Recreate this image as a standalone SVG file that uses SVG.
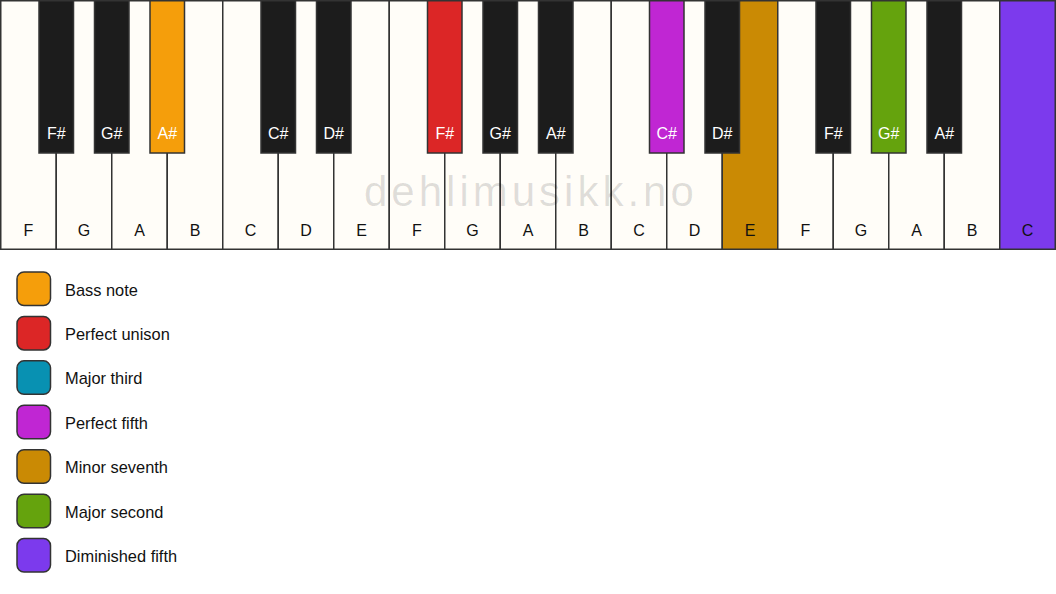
<svg xmlns="http://www.w3.org/2000/svg" width="1056" height="594" viewBox="0 0 1056 594">
<style>
.w{fill:#fffdf8;stroke:#333;stroke-width:1.5}
.b{fill:#1c1c1c;stroke:#333;stroke-width:1.5}
.wl{font-family:"Liberation Sans",Arial,sans-serif;font-size:16px;fill:#111;text-anchor:middle}
.bl{font-family:"Liberation Sans",Arial,sans-serif;font-size:16px;fill:#fff;text-anchor:middle}
.lg{stroke:#333;stroke-width:1.5}
.lt{font-family:"Liberation Sans",Arial,sans-serif;font-size:16.4px;fill:#111}
.wm{font-family:"Liberation Sans",Arial,sans-serif;font-size:42px;fill:#000;fill-opacity:0.13;letter-spacing:4px}
</style>
<rect width="1056" height="594" fill="#ffffff"/>
<g id="white-keys">
<g id="w0"><rect class="w" x="0.75" y="0.75" width="55.5" height="248.5"/><text class="wl" x="28.5" y="236">F</text></g>
<g id="w1"><rect class="w" x="56.25" y="0.75" width="55.5" height="248.5"/><text class="wl" x="84" y="236">G</text></g>
<g id="w2"><rect class="w" x="111.75" y="0.75" width="55.5" height="248.5"/><text class="wl" x="139.5" y="236">A</text></g>
<g id="w3"><rect class="w" x="167.25" y="0.75" width="55.5" height="248.5"/><text class="wl" x="195" y="236">B</text></g>
<g id="w4"><rect class="w" x="222.75" y="0.75" width="55.5" height="248.5"/><text class="wl" x="250.5" y="236">C</text></g>
<g id="w5"><rect class="w" x="278.25" y="0.75" width="55.5" height="248.5"/><text class="wl" x="306" y="236">D</text></g>
<g id="w6"><rect class="w" x="333.75" y="0.75" width="55.5" height="248.5"/><text class="wl" x="361.5" y="236">E</text></g>
<g id="w7"><rect class="w" x="389.25" y="0.75" width="55.5" height="248.5"/><text class="wl" x="417" y="236">F</text></g>
<g id="w8"><rect class="w" x="444.75" y="0.75" width="55.5" height="248.5"/><text class="wl" x="472.5" y="236">G</text></g>
<g id="w9"><rect class="w" x="500.25" y="0.75" width="55.5" height="248.5"/><text class="wl" x="528" y="236">A</text></g>
<g id="w10"><rect class="w" x="555.75" y="0.75" width="55.5" height="248.5"/><text class="wl" x="583.5" y="236">B</text></g>
<g id="w11"><rect class="w" x="611.25" y="0.75" width="55.5" height="248.5"/><text class="wl" x="639" y="236">C</text></g>
<g id="w12"><rect class="w" x="666.75" y="0.75" width="55.5" height="248.5"/><text class="wl" x="694.5" y="236">D</text></g>
<g id="w13"><rect class="w" x="722.25" y="0.75" width="55.5" height="248.5" style="fill:#ca8a04"/><text class="wl" x="750" y="236">E</text></g>
<g id="w14"><rect class="w" x="777.75" y="0.75" width="55.5" height="248.5"/><text class="wl" x="805.5" y="236">F</text></g>
<g id="w15"><rect class="w" x="833.25" y="0.75" width="55.5" height="248.5"/><text class="wl" x="861" y="236">G</text></g>
<g id="w16"><rect class="w" x="888.75" y="0.75" width="55.5" height="248.5"/><text class="wl" x="916.5" y="236">A</text></g>
<g id="w17"><rect class="w" x="944.25" y="0.75" width="55.5" height="248.5"/><text class="wl" x="972" y="236">B</text></g>
<g id="w18"><rect class="w" x="999.75" y="0.75" width="55.5" height="248.5" style="fill:#7c3aed"/><text class="wl" x="1027.5" y="236">C</text></g>
</g>
<text class="wm" x="364" y="206">dehlimusikk.no</text>
<g id="black-keys">
<g id="b1"><rect class="b" x="39" y="0.75" width="34.5" height="152.25"/><text class="bl" x="56.25" y="138.5">F#</text></g>
<g id="b2"><rect class="b" x="94.5" y="0.75" width="34.5" height="152.25"/><text class="bl" x="111.75" y="138.5">G#</text></g>
<g id="b3"><rect class="b" x="150" y="0.75" width="34.5" height="152.25" style="fill:#f59e0b"/><text class="bl" x="167.25" y="138.5">A#</text></g>
<g id="b5"><rect class="b" x="261" y="0.75" width="34.5" height="152.25"/><text class="bl" x="278.25" y="138.5">C#</text></g>
<g id="b6"><rect class="b" x="316.5" y="0.75" width="34.5" height="152.25"/><text class="bl" x="333.75" y="138.5">D#</text></g>
<g id="b8"><rect class="b" x="427.5" y="0.75" width="34.5" height="152.25" style="fill:#dc2626"/><text class="bl" x="444.75" y="138.5">F#</text></g>
<g id="b9"><rect class="b" x="483" y="0.75" width="34.5" height="152.25"/><text class="bl" x="500.25" y="138.5">G#</text></g>
<g id="b10"><rect class="b" x="538.5" y="0.75" width="34.5" height="152.25"/><text class="bl" x="555.75" y="138.5">A#</text></g>
<g id="b12"><rect class="b" x="649.5" y="0.75" width="34.5" height="152.25" style="fill:#c026d3"/><text class="bl" x="666.75" y="138.5">C#</text></g>
<g id="b13"><rect class="b" x="705" y="0.75" width="34.5" height="152.25"/><text class="bl" x="722.25" y="138.5">D#</text></g>
<g id="b15"><rect class="b" x="816" y="0.75" width="34.5" height="152.25"/><text class="bl" x="833.25" y="138.5">F#</text></g>
<g id="b16"><rect class="b" x="871.5" y="0.75" width="34.5" height="152.25" style="fill:#65a30d"/><text class="bl" x="888.75" y="138.5">G#</text></g>
<g id="b17"><rect class="b" x="927" y="0.75" width="34.5" height="152.25"/><text class="bl" x="944.25" y="138.5">A#</text></g>
</g>
<g id="legend">
<g id="lg0"><rect class="lg" x="17" y="272" width="33.5" height="33.5" rx="7" fill="#f59e0b"/><text class="lt" x="65" y="295.5">Bass note</text></g>
<g id="lg1"><rect class="lg" x="17" y="316.43" width="33.5" height="33.5" rx="7" fill="#dc2626"/><text class="lt" x="65" y="339.9">Perfect unison</text></g>
<g id="lg2"><rect class="lg" x="17" y="360.86" width="33.5" height="33.5" rx="7" fill="#0891b2"/><text class="lt" x="65" y="384.4">Major third</text></g>
<g id="lg3"><rect class="lg" x="17" y="405.29" width="33.5" height="33.5" rx="7" fill="#c026d3"/><text class="lt" x="65" y="428.8">Perfect fifth</text></g>
<g id="lg4"><rect class="lg" x="17" y="449.72" width="33.5" height="33.5" rx="7" fill="#ca8a04"/><text class="lt" x="65" y="473.2">Minor seventh</text></g>
<g id="lg5"><rect class="lg" x="17" y="494.15" width="33.5" height="33.5" rx="7" fill="#65a30d"/><text class="lt" x="65" y="517.7">Major second</text></g>
<g id="lg6"><rect class="lg" x="17" y="538.58" width="33.5" height="33.5" rx="7" fill="#7c3aed"/><text class="lt" x="65" y="562.1">Diminished fifth</text></g>
</g>
<g id="connectors"/>
</svg>
